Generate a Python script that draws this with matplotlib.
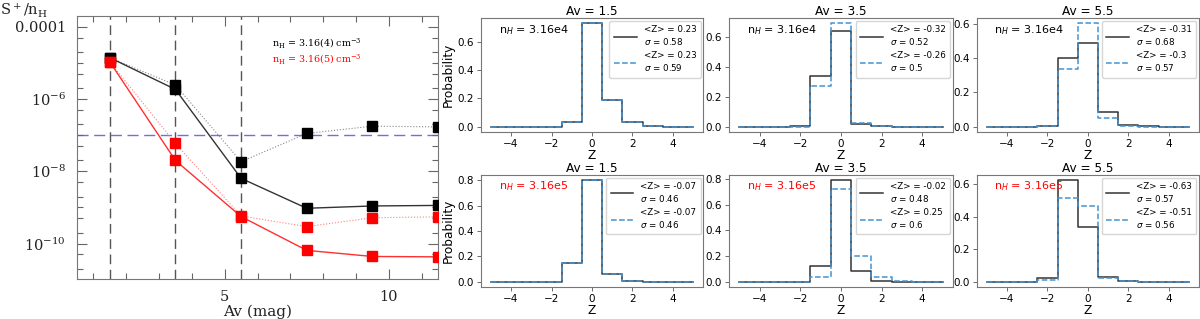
import numpy as np
import matplotlib
matplotlib.use("Agg")
import matplotlib.pyplot as plt
from matplotlib.ticker import FixedLocator, NullFormatter

# ---------------- data ----------------
av = [1.5, 3.5, 5.5, 7.5, 9.5, 11.5]
s_n4_solid = [1.4e-5, 1.85e-6, 6.4e-9, 9.5e-10, 1.1e-9, 1.14e-9]
s_n4_dotted = [1.4e-5, 2.45e-6, 1.85e-8, 1.12e-7, 1.78e-7, 1.7e-7]
s_n5_solid = [1.07e-5, 2.0e-8, 5.6e-10, 6.5e-11, 4.4e-11, 4.3e-11]
s_n5_dotted = [1.07e-5, 5.9e-8, 5.8e-10, 2.95e-10, 5.2e-10, 5.5e-10]
s_ref = 1e-7
av_marks = [1.5, 3.5, 5.5]

z = np.arange(-5, 6)
hist_av = ["1.5", "3.5", "5.5"]
nh_labels = ["3.16e4", "3.16e5"]
hist_black = [
    [[0, 0, 0, 0, 0.035, 0.73, 0.19, 0.03, 0.005, 0, 0],
     [0, 0, 0, 0.003, 0.336, 0.638, 0.02, 0.002, 0, 0, 0],
     [0, 0, 0, 0.005, 0.405, 0.49, 0.087, 0.012, 0.002, 0, 0]],
    [[0, 0, 0, 0, 0.147, 0.80, 0.064, 0.005, 0, 0, 0],
     [0, 0, 0, 0, 0.122, 0.792, 0.084, 0.008, 0, 0, 0],
     [0, 0, 0, 0.024, 0.626, 0.337, 0.03, 0.005, 0, 0, 0]],
]
hist_blue = [
    [[0, 0, 0, 0, 0.035, 0.73, 0.19, 0.03, 0.005, 0, 0],
     [0, 0, 0, 0, 0.275, 0.692, 0.027, 0.003, 0, 0, 0],
     [0, 0, 0, 0.002, 0.34, 0.605, 0.05, 0.004, 0, 0, 0]],
    [[0, 0, 0, 0, 0.147, 0.80, 0.064, 0.005, 0, 0, 0],
     [0, 0, 0, 0, 0.04, 0.724, 0.204, 0.04, 0.005, 0, 0],
     [0, 0, 0, 0.014, 0.517, 0.465, 0.022, 0.003, 0, 0, 0]],
]
mean_black = [["0.23", "-0.32", "-0.31"], ["-0.07", "-0.02", "-0.63"]]
sig_black = [["0.58", "0.52", "0.68"], ["0.46", "0.48", "0.57"]]
mean_blue = [["0.23", "-0.26", "-0.3"], ["-0.07", "0.25", "-0.51"]]
sig_blue = [["0.59", "0.5", "0.57"], ["0.46", "0.6", "0.56"]]

# ---------------- figure ----------------
W, H = 1200, 319
fig = plt.figure(figsize=(W / 100, H / 100), dpi=100)

def frac(x0, y0, x1, y1):
    return [x0 / W, 1 - y1 / H, (x1 - x0) / W, (y1 - y0) / H]

# ---- left panel ----
plt.rcParams['mathtext.fontset'] = 'dejavuserif'
ax = fig.add_axes(frac(77, 16, 438, 279))
ax.set_yscale('log')
ax.set_xlim(0.5, 11.5)
ax.set_ylim(10 ** -10.98, 10 ** -3.70)
for xv in av_marks:
    ax.axvline(xv, color='#555555', lw=1.0, ls=(0, (7, 4)), zorder=1)
ax.axhline(s_ref, color='#6f6fe0', lw=1.0, ls=(0, (8, 4)), zorder=1)
ax.plot(av, s_n4_dotted, color='#888888', lw=0.8, ls=':', zorder=2)
ax.plot(av, s_n5_dotted, color='#ff8080', lw=0.8, ls=':', zorder=2)
ax.plot(av, s_n4_solid, color='#333333', lw=1.0, zorder=2)
ax.plot(av, s_n5_solid, color='#ff3030', lw=1.0, zorder=2)
ax.plot(av, s_n4_dotted, 's', color='black', ms=6.5, zorder=3)
ax.plot(av, s_n4_solid, 's', color='black', ms=6.5, zorder=3)
ax.plot(av, s_n5_dotted, 's', color='red', ms=6.5, zorder=3)
ax.plot(av, s_n5_solid, 's', color='red', ms=6.5, zorder=3)

ax.xaxis.set_major_locator(FixedLocator([5, 10]))
ax.xaxis.set_minor_locator(FixedLocator([1, 2, 3, 4, 6, 7, 8, 9, 11]))
ax.set_xticklabels(['5', '10'], family='DejaVu Serif', fontsize=10.5)
ymaj = [1e-4, 1e-6, 1e-8, 1e-10]
ax.yaxis.set_major_locator(FixedLocator(ymaj))
ax.set_yticklabels(['0.0001', r'$10^{-6}$', r'$10^{-8}$', r'$10^{-10}$'],
                   family='DejaVu Serif', fontsize=10.5)
ymin = []
for e in range(-11, -3):
    for m in (1, 2, 5):
        v = m * 10.0 ** e
        if not any(abs(v - t) / t < 1e-6 for t in ymaj):
            ymin.append(v)
ax.yaxis.set_minor_locator(FixedLocator(ymin))
ax.yaxis.set_minor_formatter(NullFormatter())
ax.tick_params(which='both', direction='in', top=True, right=True, colors='#666666',
               labelcolor='#222222')
ax.tick_params(which='major', length=7, width=0.8)
ax.tick_params(which='minor', length=4, width=0.8)
ax.tick_params(axis='x', which='major', pad=8)
ax.tick_params(axis='y', which='major', pad=8)
for sp in ax.spines.values():
    sp.set_color('#777777')
ax.set_xlabel('Av (mag)', family='DejaVu Serif', fontsize=11, labelpad=0, color='#222222')
ax.text(0.539, 0.896, r'n$_{\rm H}$ = 3.16(4) cm$^{-3}$', transform=ax.transAxes,
        family='DejaVu Serif', fontsize=6.8, color='black', va='center')
ax.text(0.539, 0.835, r'n$_{\rm H}$ = 3.16(5) cm$^{-3}$', transform=ax.transAxes,
        family='DejaVu Serif', fontsize=6.8, color='red', va='center')
fig.text(0.0, 1 - 9 / H, r'S$^+$/n$_{\rm H}$', family='DejaVu Serif', fontsize=10.5,
         va='center', ha='left', color='#222222')

# ---- histogram panels ----
plt.rcParams['mathtext.fontset'] = 'dejavusans'
cols = [(480.7, 703.3), (729, 952.7), (976.7, 1199)]
rows = [(18.3, 131.7), (175, 287)]
for r in range(2):
    for c in range(3):
        hx = fig.add_axes(frac(cols[c][0], rows[r][0], cols[c][1], rows[r][1]))
        hx.step(z, hist_black[r][c], where='mid', color='#333333', lw=1.1,
                label='<Z> = %s\n$\\sigma$ = %s' % (mean_black[r][c], sig_black[r][c]))
        hx.step(z, hist_blue[r][c], where='mid', color='#4393d3', lw=1.1, ls='--',
                label='<Z> = %s\n$\\sigma$ = %s' % (mean_blue[r][c], sig_blue[r][c]))
        hx.set_xticks([-4, -2, 0, 2, 4])
        hx.tick_params(labelsize=7.5, length=3, width=0.6, pad=2, colors='#555555',
                       labelcolor='black')
        for sp in hx.spines.values():
            sp.set_color('#777777')
            sp.set_linewidth(0.8)
        hx.set_title('Av = %s' % hist_av[c], fontsize=8.7, pad=2)
        hx.set_xlabel('Z', fontsize=8.7, labelpad=0)
        if c == 0:
            hx.set_ylabel('Probability', fontsize=8.7, labelpad=2)
        hx.text(0.08, 0.9, 'n$_H$ = %s' % nh_labels[r], transform=hx.transAxes,
                fontsize=8, va='center', ha='left', color='black' if r == 0 else 'red')
        hx.legend(loc='upper right', fontsize=6.3, handlelength=2.6, borderpad=0.5,
                  labelspacing=0.5, framealpha=0.8, borderaxespad=0.3)

fig.savefig('out.png', dpi=100)
